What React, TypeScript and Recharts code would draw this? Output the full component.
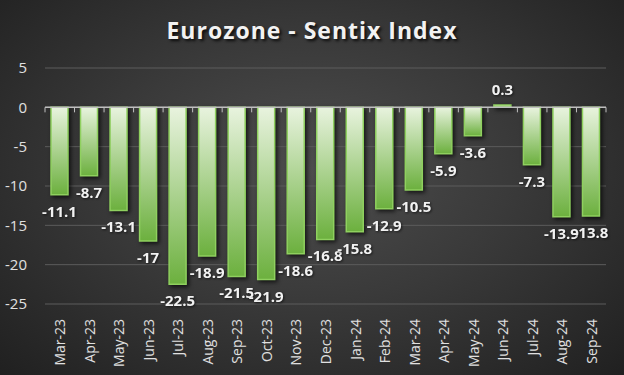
import React from "react";
import { BarChart, Bar, XAxis, YAxis, CartesianGrid, ReferenceLine, LabelList } from "recharts";

const months = ["Mar-23","Apr-23","May-23","Jun-23","Jul-23","Aug-23","Sep-23","Oct-23","Nov-23","Dec-23","Jan-24","Feb-24","Mar-24","Apr-24","May-24","Jun-24","Jul-24","Aug-24","Sep-24"];
const sentix = [-11.1,-8.7,-13.1,-17,-22.5,-18.9,-21.5,-21.9,-18.6,-16.8,-15.8,-12.9,-10.5,-5.9,-3.6,0.3,-7.3,-13.9,-13.8];
const yTicks = [-25,-20,-15,-10,-5,0,5];

const data = months.map((m, i) => ({ month: m, value: sentix[i] }));

const FONT = "'Open Sans', 'DejaVu Sans', sans-serif";

const BarLabel = (props: any) => {
  const { x, y, width, height, value } = props;
  const top = Math.min(y, y + height);
  const bottom = Math.max(y, y + height);
  const cx = x + width / 2;
  const ty = value < 0 ? bottom + 16 : top - 16;
  return (
    <text x={cx} y={ty} textAnchor="middle" dominantBaseline="central" fill="#f2f2f2" fontSize={15} fontWeight="bold" fontFamily={FONT} style={{ filter: "drop-shadow(1px 1px 1px rgba(0,0,0,0.6))" }}>
      {value}
    </text>
  );
};

const XTick = (props: any) => {
  const { x, y, payload } = props;
  return (
    <text x={x} y={y + 7} transform={`rotate(-90, ${x}, ${y + 7})`} textAnchor="end" dominantBaseline="central" fill="#e0e0e0" fontSize={14} fontFamily={FONT}>
      {payload.value}
    </text>
  );
};

const ZeroLine = (props: any) => {
  const { x1, x2, y1 } = props;
  const n = months.length;
  const step = (x2 - x1) / n;
  const ticks = [];
  for (let i = 0; i <= n; i++) {
    const tx = x1 + i * step;
    ticks.push(<line key={i} x1={tx} x2={tx} y1={y1} y2={y1 + 5} stroke="#bfbfbf" strokeWidth={1} />);
  }
  return (
    <g>
      <line x1={x1} x2={x2} y1={y1} y2={y1} stroke="#bfbfbf" strokeWidth={1.5} />
      {ticks}
    </g>
  );
};

export default function App() {
  return (
    <div style={{ position: "absolute", left: 0, top: 0, width: 624, height: 375, background: "radial-gradient(ellipse at 50% 45%, #4d4d4d 0%, #3a3a3a 45%, #202020 100%)", overflow: "hidden" }}>
      <div style={{ position: "absolute", left: 0, top: 14, width: 624, textAlign: "center", color: "#f2f2f2", fontFamily: FONT, fontWeight: "bold", fontSize: 23, letterSpacing: 1, textShadow: "2px 2px 3px rgba(0,0,0,0.8)" }}>
        Eurozone - Sentix Index
      </div>
      <BarChart width={624} height={375} data={data} margin={{ top: 68, right: 18, bottom: 6, left: 0 }} barSize={17}>
        <defs>
          <linearGradient id="barGrad" x1="0" y1="0" x2="0" y2="1">
            <stop offset="0%" stopColor="#e8f3de" />
            <stop offset="100%" stopColor="#6cb03e" />
          </linearGradient>
        </defs>
        <CartesianGrid vertical={false} stroke="#5c5c5c" strokeWidth={1} />
        <XAxis dataKey="month" axisLine={false} tickLine={false} height={65} interval={0} tick={<XTick />} />
        <YAxis domain={[-25, 5]} ticks={yTicks} axisLine={false} tickLine={false} width={45} tick={{ fill: "#e0e0e0", fontSize: 15, fontFamily: FONT }} tickMargin={12} />
        <Bar dataKey="value" fill="url(#barGrad)" stroke="#8fd05f" strokeWidth={1.5} isAnimationActive={false} style={{ filter: "drop-shadow(2px 2px 2px rgba(0,0,0,0.7))" }}>
          <LabelList dataKey="value" content={<BarLabel />} />
        </Bar>
        <ReferenceLine y={0} shape={<ZeroLine />} />
      </BarChart>
    </div>
  );
}
